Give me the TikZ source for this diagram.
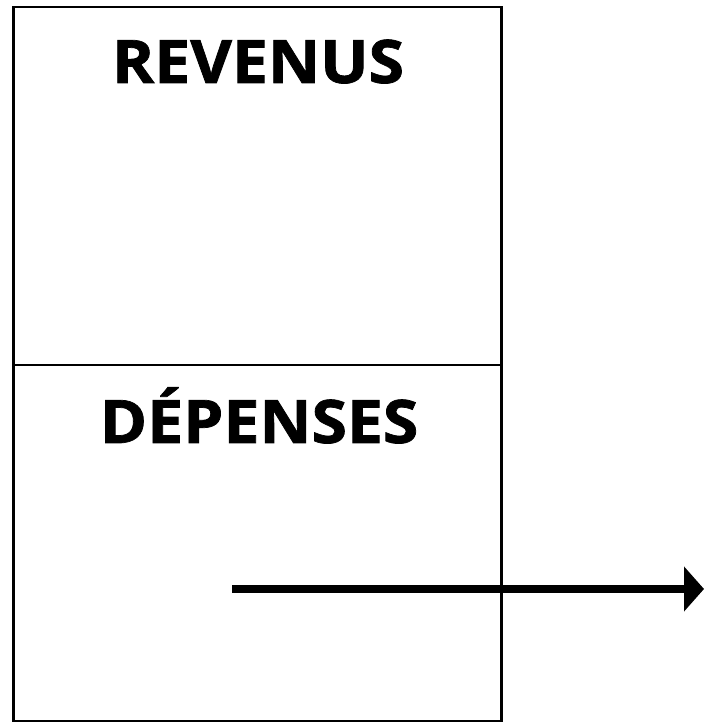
\documentclass[tikz,border=0pt]{standalone}
\usepackage{fontspec}
\setmainfont{Open Sans}
\newfontfamily\heavyfont[FakeBold=1.2]{Open Sans Bold}
\usetikzlibrary{arrows.meta}
\begin{document}
\begin{tikzpicture}[x=1pt,y=1pt,
  panel/.style={draw=black, line width=2.5pt, minimum width=488pt, anchor=north west, inner sep=0pt},
  title/.style={anchor=base, font=\fontsize{60}{60}\selectfont\heavyfont, inner sep=0pt, xscale=1.07},
  flow/.style={line width=8pt, -{Triangle[length=20pt,width=44pt]}}]
\useasboundingbox (0,0) rectangle (704,722);
\node[panel, minimum height=358pt] (rev) at (12,716) {};
\node[panel, minimum height=356pt] (dep) at (12,358) {};
\node[title] (revt) at (258,639) {REVENUS};
\node[title] (dept) at (259,279) {DÉPENSES};
\coordinate (a0) at (232,133);
\coordinate (a1) at (704,133);
\draw[flow] (a0) -- (a1);
\end{tikzpicture}
\end{document}
